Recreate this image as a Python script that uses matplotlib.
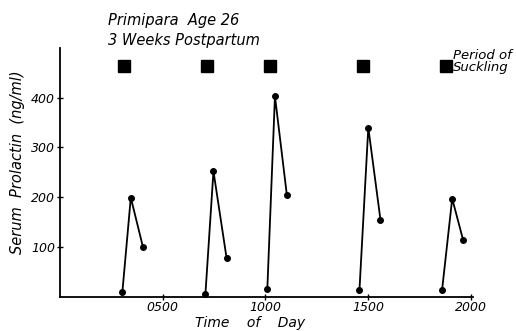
import matplotlib
matplotlib.use("Agg")
import matplotlib.pyplot as plt

# serum prolactin around each suckling period (time in hours, ng/ml)
episode_times = [
    [3.04, 3.45, 4.04],
    [7.08, 7.47, 8.11],
    [10.09, 10.46, 11.04],
    [14.57, 15.00, 15.59],
    [18.59, 19.08, 19.61],
]
episode_values = [
    [9, 199, 100],
    [6, 252, 77],
    [16, 403, 204],
    [13, 340, 155],
    [14, 197, 114],
]
suckling_times = [3.12, 7.16, 10.22, 14.73, 18.80]
suckling_level = 464

x_ticks = [5, 10, 15, 20]
x_tick_labels = ["0500", "1000", "1500", "2000"]
y_ticks = [100, 200, 300, 400]

fig = plt.figure(figsize=(5.16, 3.31), dpi=100)
ax = fig.add_axes([0.116, 0.104, 0.801, 0.751])

for t, v in zip(episode_times, episode_values):
    ax.plot(t, v, color="black", lw=1.3, marker="o", ms=4, zorder=3)

ax.plot(suckling_times, [suckling_level] * len(suckling_times), ls="none",
        marker="s", ms=8.5, color="black")

ax.set_xlim(0, 20.1)
ax.set_ylim(0, 500)
ax.spines["top"].set_visible(False)
ax.spines["right"].set_visible(False)
ax.spines["left"].set_linewidth(1.3)
ax.spines["bottom"].set_linewidth(1.3)

ax.set_xticks(x_ticks)
ax.set_xticklabels(x_tick_labels, style="italic", fontsize=9)
ax.set_yticks(y_ticks)
ax.set_yticklabels([str(v) for v in y_ticks], style="italic", fontsize=9)
ax.tick_params(direction="inout", length=5, width=1, pad=1)

ax.set_xlabel("Time    of    Day", style="italic", fontsize=10, va="top")
ax.xaxis.set_label_coords(0.46, -0.078)
ax.set_ylabel("Serum  Prolactin  (ng/ml)", style="italic", fontsize=10.5)
ax.yaxis.set_label_coords(-0.085, 0.54)

fig.text(0.21, 0.925, "Primipara  Age 26", style="italic", fontsize=10.5)
fig.text(0.21, 0.865, "3 Weeks Postpartum", style="italic", fontsize=10.5)
ax.text(19.1, suckling_level + 8, "Period of\nSuckling", style="italic",
        fontsize=9.5, va="center", ha="left", linespacing=0.9)

fig.savefig("out.png", dpi=100)
